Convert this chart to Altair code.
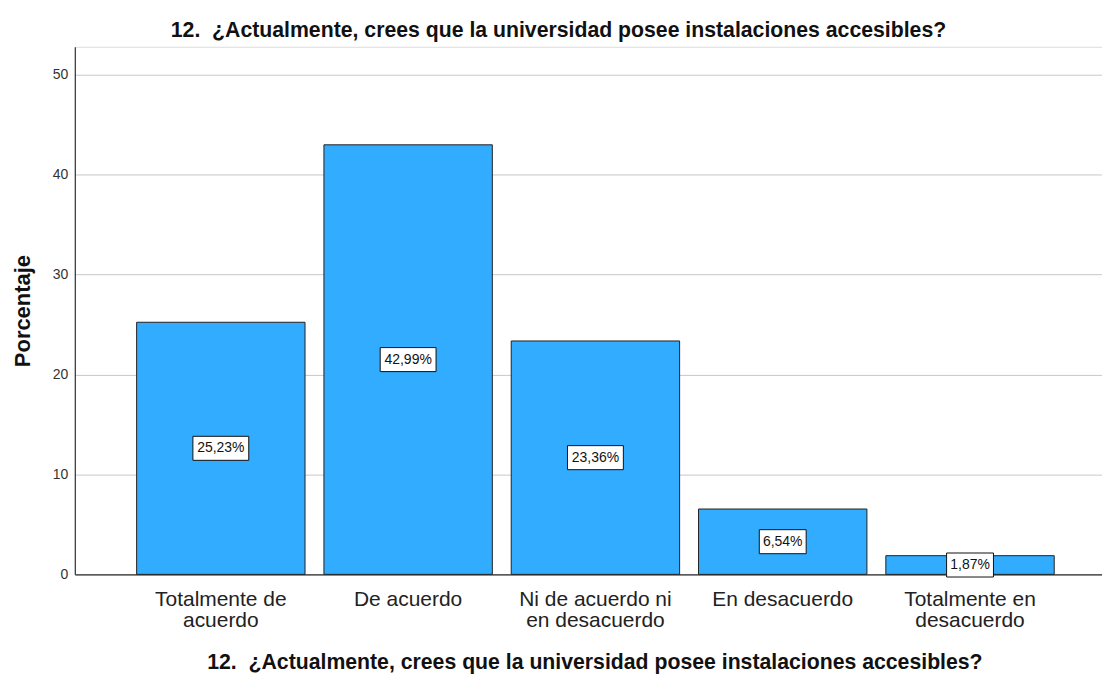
import altair as alt
import pandas as pd

categories = ["Totalmente de acuerdo", "De acuerdo", "Ni de acuerdo ni en desacuerdo",
              "En desacuerdo", "Totalmente en desacuerdo"]
label_lines = [["Totalmente de", "acuerdo"], ["De acuerdo"], ["Ni de acuerdo ni", "en desacuerdo"],
               ["En desacuerdo"], ["Totalmente en", "desacuerdo"]]
percentages = [25.23, 42.99, 23.36, 6.54, 1.87]
y_ticks = [0, 10, 20, 30, 40, 50]
title_text = "12.\u00a0\u00a0¿Actualmente, crees que la universidad posee instalaciones accesibles?"
y_title = "Porcentaje"

df = pd.DataFrame({"cat": categories, "pct": percentages})

label_expr = ""
for c, lines in zip(categories, label_lines):
    arr = "[" + ",".join("'" + s + "'" for s in lines) + "]"
    label_expr += f"datum.value == '{c}' ? {arr} : "
label_expr += "datum.value"

FONT = "Liberation Sans"

x_enc = alt.X(
    "cat:N", sort=categories,
    scale=alt.Scale(paddingInner=0.101, paddingOuter=0.2926, align=0.564),
    axis=alt.Axis(
        title=title_text, labelExpr=label_expr, labelAngle=0, labelFont=FONT,
        labelFontSize=21, labelColor="#222222", labelLineHeight=21, labelPadding=14,
        labelBaseline="top", ticks=False, domainColor="#333333", domainWidth=1.2,
        titleFont=FONT, titleFontSize=21.3, titleFontWeight="bold", titleColor="#111111",
        titleX=521, titleY=94, titleBaseline="alphabetic", titleAlign="center", grid=False,
    ),
)
y_scale = alt.Scale(domain=[0, 52.8], nice=False, zero=True)
y_axis = alt.Axis(
    values=y_ticks, title=y_title, ticks=False, labelPadding=7, labelFont=FONT,
    labelFontSize=14, labelColor="#333333", domainColor="#333333", domainWidth=1.2,
    gridColor="#c8c8c8", gridWidth=1, titleFont=FONT, titleFontSize=22,
    titleFontWeight="bold", titleColor="#111111", titleX=-52, titleY=264.5,
    titleAngle=270, titleBaseline="middle", titleAlign="center",
)

bars = alt.Chart(df).mark_bar(color="#31acff", stroke="#222222", strokeWidth=1).encode(
    x=x_enc,
    y=alt.Y("pct:Q", scale=y_scale, axis=y_axis),
)

boxes = alt.Chart(df).transform_calculate(
    mid="datum.pct / 2",
    label="replace(format(datum.pct, '.2f'), '.', ',') + '%'",
).transform_calculate(
    hw="(9 * length(datum.label) + 2) / 56",
).transform_calculate(
    path="'M' + (-datum.hw) + ',-0.43L' + datum.hw + ',-0.43L' + datum.hw + ',0.43L' + (-datum.hw) + ',0.43Z'"
)

box_marks = boxes.mark_point(filled=False, fill="white", fillOpacity=1, stroke="#111111",
                             strokeWidth=1, opacity=1, size=3136).encode(
    x=alt.X("cat:N", sort=categories),
    y=alt.Y("mid:Q", scale=y_scale),
    shape=alt.Shape("path:N", scale=None, legend=None),
)
text_marks = boxes.mark_text(font=FONT, fontSize=14, color="#111111", baseline="middle",
                             align="center").encode(
    x=alt.X("cat:N", sort=categories),
    y=alt.Y("mid:Q", scale=y_scale),
    text="label:N",
)

chart = alt.layer(bars, box_marks, text_marks).properties(
    width=1030, height=529,
    title=alt.TitleParams(title_text, font=FONT, fontSize=21.3, fontWeight="bold",
                          color="#111111", dx=-30, offset=6, anchor="middle"),
    autosize=alt.AutoSizeParams(type="none"),
    padding={"left": 67, "top": 38, "right": 0, "bottom": 100},
).configure_view(stroke=None).configure(background="white")

chart.save("out.html", embed_options={"renderer": "svg", "actions": False})
